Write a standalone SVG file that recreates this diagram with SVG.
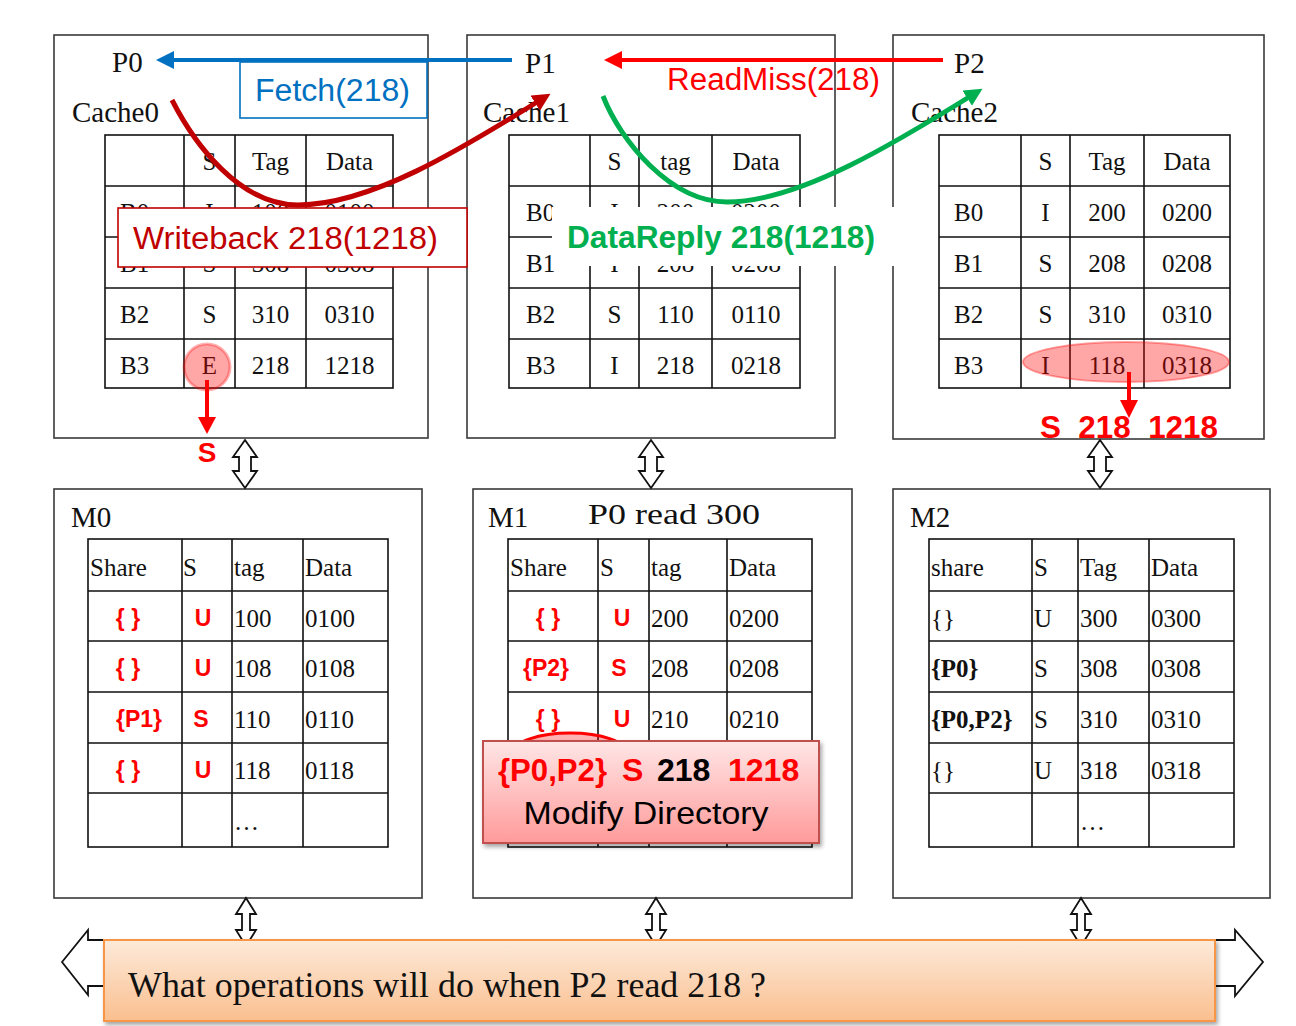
<svg xmlns="http://www.w3.org/2000/svg" width="1296" height="1026" viewBox="0 0 1296 1026">
<style>
.box{fill:#fff;stroke:#3a3a3a;stroke-width:1.6}
.tb{fill:none;stroke:#111;stroke-width:1.6}
.t{font-family:"Liberation Serif","Times New Roman",serif;font-size:25px;fill:#111}
.c{text-anchor:middle}
.lbl{font-family:"Liberation Serif","Times New Roman",serif;font-size:29px;fill:#111}
.rb{font-family:"Liberation Sans",Arial,sans-serif;font-weight:bold;font-size:23px;fill:#ff0000;text-anchor:middle}
.sans{font-family:"Liberation Sans",Arial,sans-serif}
.dbl{fill:#fff;stroke:#111;stroke-width:1.8;stroke-linejoin:miter}
</style>
<defs>
<marker id="mDR" markerUnits="userSpaceOnUse" markerWidth="20" markerHeight="20" refX="8" refY="9" orient="auto"><path d="M0,0 L18,9 L0,18 z" fill="#c00000"/></marker>
<marker id="mG" markerUnits="userSpaceOnUse" markerWidth="20" markerHeight="20" refX="8" refY="9" orient="auto"><path d="M0,0 L18,9 L0,18 z" fill="#00b050"/></marker>
<linearGradient id="gPink" x1="0" y1="0" x2="0" y2="1"><stop offset="0" stop-color="#ffe6e6"/><stop offset="1" stop-color="#ff9a9a"/></linearGradient>
<linearGradient id="gOrange" x1="0" y1="0" x2="0" y2="1"><stop offset="0" stop-color="#fdeada"/><stop offset="1" stop-color="#fabf8f"/></linearGradient>
<filter id="sh" x="-5%" y="-10%" width="110%" height="130%"><feDropShadow dx="2" dy="3" stdDeviation="2" flood-color="#000" flood-opacity="0.35"/></filter>
</defs>

<!-- Cache0 -->
<g id="cache0">
<rect class="box" x="54" y="35" width="374" height="403"/>
<text class="lbl" x="112" y="72" font-size="28">P0</text>
<text class="lbl" x="72" y="122" font-size="30">Cache0</text>
<rect class="tb" x="105" y="135" width="288" height="253"/>
<path class="tb" d="M105,186H393M105,237H393M105,288H393M105,339H393M184,135V388M235,135V388M306,135V388"/>
<g class="t">
<text class="c" x="209.5" y="170">S</text><text class="c" x="270.5" y="170">Tag</text><text class="c" x="349.5" y="170">Data</text>
<text x="120" y="221">B0</text><text class="c" x="209.5" y="221">I</text><text class="c" x="270.5" y="221">100</text><text class="c" x="349.5" y="221">0100</text>
<text x="120" y="272">B1</text><text class="c" x="209.5" y="272">S</text><text class="c" x="270.5" y="272">308</text><text class="c" x="349.5" y="272">0308</text>
<text x="120" y="323">B2</text><text class="c" x="209.5" y="323">S</text><text class="c" x="270.5" y="323">310</text><text class="c" x="349.5" y="323">0310</text>
<text x="120" y="374">B3</text><text class="c" x="209.5" y="374">E</text><text class="c" x="270.5" y="374">218</text><text class="c" x="349.5" y="374">1218</text>
</g>
<circle cx="207" cy="367" r="23" fill="#ff0000" fill-opacity="0.35" stroke="#ff0000" stroke-opacity="0.3" stroke-width="3"/>
</g>

<!-- Cache1 -->
<g id="cache1">
<rect class="box" x="467" y="35" width="368" height="403"/>
<text class="lbl" x="525" y="73" font-size="28">P1</text>
<text class="lbl" x="483" y="122" font-size="30">Cache1</text>
<rect class="tb" x="509" y="135" width="291" height="253"/>
<path class="tb" d="M509,186H800M509,237H800M509,288H800M509,339H800M590,135V388M639,135V388M712,135V388"/>
<g class="t">
<text class="c" x="614.5" y="170">S</text><text class="c" x="675.5" y="170">tag</text><text class="c" x="756" y="170">Data</text>
<text x="526" y="221">B0</text><text class="c" x="614.5" y="221">I</text><text class="c" x="675.5" y="221">200</text><text class="c" x="756" y="221">0200</text>
<text x="526" y="272">B1</text><text class="c" x="614.5" y="272">I</text><text class="c" x="675.5" y="272">208</text><text class="c" x="756" y="272">0208</text>
<text x="526" y="323">B2</text><text class="c" x="614.5" y="323">S</text><text class="c" x="675.5" y="323">110</text><text class="c" x="756" y="323">0110</text>
<text x="526" y="374">B3</text><text class="c" x="614.5" y="374">I</text><text class="c" x="675.5" y="374">218</text><text class="c" x="756" y="374">0218</text>
</g>
</g>

<!-- Cache2 -->
<g id="cache2">
<rect class="box" x="893" y="35" width="371" height="404"/>
<text class="lbl" x="954" y="73" font-size="28">P2</text>
<text class="lbl" x="911" y="122" font-size="30">Cache2</text>
<rect class="tb" x="939" y="135" width="291" height="253"/>
<path class="tb" d="M939,186H1230M939,237H1230M939,288H1230M939,339H1230M1021,135V388M1070,135V388M1144,135V388"/>
<g class="t">
<text class="c" x="1045.5" y="170">S</text><text class="c" x="1107" y="170">Tag</text><text class="c" x="1187" y="170">Data</text>
<text x="954" y="221">B0</text><text class="c" x="1045.5" y="221">I</text><text class="c" x="1107" y="221">200</text><text class="c" x="1187" y="221">0200</text>
<text x="954" y="272">B1</text><text class="c" x="1045.5" y="272">S</text><text class="c" x="1107" y="272">208</text><text class="c" x="1187" y="272">0208</text>
<text x="954" y="323">B2</text><text class="c" x="1045.5" y="323">S</text><text class="c" x="1107" y="323">310</text><text class="c" x="1187" y="323">0310</text>
<text x="954" y="374">B3</text><text class="c" x="1045.5" y="374">I</text><text class="c" x="1107" y="374">118</text><text class="c" x="1187" y="374">0318</text>
</g>
<ellipse cx="1126" cy="362" rx="103" ry="20" fill="#ff0000" fill-opacity="0.35" stroke="#ff0000" stroke-opacity="0.35" stroke-width="2"/>
</g>

<!-- M0 -->
<g id="m0">
<rect class="box" x="54" y="489" width="368" height="409"/>
<text class="lbl" x="71" y="527" font-size="30">M0</text>
<rect class="tb" x="88" y="539" width="300" height="308"/>
<path class="tb" d="M88,591H388M88,641H388M88,692H388M88,743H388M88,793H388M182,539V847M232,539V847M303,539V847"/>
<g class="t">
<text x="90" y="576">Share</text><text x="183" y="576">S</text><text x="234" y="576">tag</text><text x="305" y="576">Data</text>
<text x="234" y="627">100</text><text x="305" y="627">0100</text>
<text x="234" y="677">108</text><text x="305" y="677">0108</text>
<text x="234" y="728">110</text><text x="305" y="728">0110</text>
<text x="234" y="779">118</text><text x="305" y="779">0118</text>
<text x="234" y="830">…</text>
</g>
<text class="rb" x="128" y="626">{ }</text><text class="rb" x="203" y="626">U</text>
<text class="rb" x="128" y="676">{ }</text><text class="rb" x="203" y="676">U</text>
<text class="rb" x="139" y="727">{P1}</text><text class="rb" x="201" y="727">S</text>
<text class="rb" x="128" y="778">{ }</text><text class="rb" x="203" y="778">U</text>
</g>

<!-- M1 -->
<g id="m1">
<rect class="box" x="473" y="489" width="379" height="409"/>
<text class="lbl" x="488" y="527" font-size="30">M1</text>
<text class="lbl" x="588" y="524" font-size="36" textLength="172" lengthAdjust="spacingAndGlyphs">P0 read 300</text>
<rect class="tb" x="508" y="539" width="304" height="308"/>
<path class="tb" d="M508,591H812M508,641H812M508,692H812M508,743H812M508,793H812M598,539V847M649,539V847M727,539V847"/>
<g class="t">
<text x="510" y="576">Share</text><text x="600" y="576">S</text><text x="651" y="576">tag</text><text x="729" y="576">Data</text>
<text x="651" y="627">200</text><text x="729" y="627">0200</text>
<text x="651" y="677">208</text><text x="729" y="677">0208</text>
<text x="651" y="728">210</text><text x="729" y="728">0210</text>
</g>
<text class="rb" x="548" y="626">{ }</text><text class="rb" x="622" y="626">U</text>
<text class="rb" x="546" y="676">{P2}</text><text class="rb" x="619" y="676">S</text>
<text class="rb" x="548" y="727">{ }</text><text class="rb" x="622" y="727">U</text>
<ellipse cx="570" cy="753" rx="57" ry="20" fill="#ff0000" fill-opacity="0.3" stroke="#ff0000" stroke-width="3"/>
</g>

<!-- M2 -->
<g id="m2">
<rect class="box" x="893" y="489" width="377" height="409"/>
<text class="lbl" x="910" y="527" font-size="30">M2</text>
<rect class="tb" x="929" y="539" width="305" height="308"/>
<path class="tb" d="M929,591H1234M929,641H1234M929,692H1234M929,743H1234M929,793H1234M1032,539V847M1078,539V847M1149,539V847"/>
<g class="t">
<text x="931" y="576">share</text><text x="1034" y="576">S</text><text x="1080" y="576">Tag</text><text x="1151" y="576">Data</text>
<text x="931" y="627">{}</text><text x="1034" y="627">U</text><text x="1080" y="627">300</text><text x="1151" y="627">0300</text>
<text x="931" y="677" font-weight="bold">{P0}</text><text x="1034" y="677">S</text><text x="1080" y="677">308</text><text x="1151" y="677">0308</text>
<text x="931" y="728" font-weight="bold">{P0,P2}</text><text x="1034" y="728">S</text><text x="1080" y="728">310</text><text x="1151" y="728">0310</text>
<text x="931" y="779">{}</text><text x="1034" y="779">U</text><text x="1080" y="779">318</text><text x="1151" y="779">0318</text>
<text x="1080" y="830">…</text>
</g>
</g>

<!-- connectors -->
<g id="connectors">
<line x1="512" y1="60" x2="170" y2="60" stroke="#0070c0" stroke-width="4"/>
<polygon points="156,60 174,51 174,69" fill="#0070c0"/>
<line x1="943" y1="60" x2="618" y2="60" stroke="#ff0000" stroke-width="4"/>
<polygon points="604,60 622,51 622,69" fill="#ff0000"/>
<path d="M172,100 C195,145 240,205 298,205 C370,205 460,150 542,99" fill="none" stroke="#c00000" stroke-width="5" marker-end="url(#mDR)"/>
<path d="M603,96 C620,140 670,202 727,202 C800,202 900,140 974,94" fill="none" stroke="#00b050" stroke-width="5" marker-end="url(#mG)"/>
<line x1="207" y1="380" x2="207" y2="420" stroke="#ff0000" stroke-width="4"/>
<polygon points="198,417 216,417 207,434" fill="#ff0000"/>
<line x1="1129" y1="372" x2="1129" y2="403" stroke="#ff0000" stroke-width="4"/>
<polygon points="1120,400 1138,400 1129,418" fill="#ff0000"/>
<polygon class="dbl" points="245,440 257,457 251,457 251,471 257,471 245,488 233,471 239,471 239,457 233,457"/>
<polygon class="dbl" points="651,440 663,457 657,457 657,471 663,471 651,488 639,471 645,471 645,457 639,457"/>
<polygon class="dbl" points="1100,440 1112,457 1106,457 1106,471 1112,471 1100,488 1088,471 1094,471 1094,457 1088,457"/>
<polygon class="dbl" points="246,898 256,914 250,914 250,930 256,930 246,946 236,930 242,930 242,914 236,914"/>
<polygon class="dbl" points="656,898 666,914 660,914 660,930 666,930 656,946 646,930 652,930 652,914 646,914"/>
<polygon class="dbl" points="1081,898 1091,914 1085,914 1085,930 1091,930 1081,946 1071,930 1077,930 1077,914 1071,914"/>
</g>

<!-- labels -->
<g id="lbl-fetch">
<rect x="240" y="62" width="187" height="56" fill="#fff" stroke="#0070c0" stroke-width="1.6"/>
<text class="sans" x="255" y="101" font-size="31" fill="#0070c0" textLength="155" lengthAdjust="spacingAndGlyphs">Fetch(218)</text>
</g>
<g id="lbl-readmiss">
<text class="sans" x="667" y="90" font-size="31" fill="#ff0000" textLength="213" lengthAdjust="spacingAndGlyphs">ReadMiss(218)</text>
</g>
<g id="lbl-writeback">
<rect x="118" y="208" width="349" height="59" fill="#fff" stroke="#c00000" stroke-width="1.6"/>
<text class="sans" x="133" y="249" font-size="31" fill="#c00000" textLength="305" lengthAdjust="spacingAndGlyphs">Writeback 218(1218)</text>
</g>
<g id="lbl-datareply">
<rect x="552" y="207" width="344" height="59" fill="#fff"/>
<text class="sans" x="567" y="248" font-size="31" font-weight="bold" fill="#00b050" textLength="308" lengthAdjust="spacingAndGlyphs">DataReply 218(1218)</text>
</g>
<g id="lbl-s0">
<text class="sans" x="207" y="462" font-size="28" font-weight="bold" fill="#ff0000" text-anchor="middle">S</text>
</g>
<g id="lbl-s2">
<text class="sans" x="1040" y="438" font-size="31" font-weight="bold" fill="#ff0000" textLength="178" lengthAdjust="spacingAndGlyphs" xml:space="preserve">S  218  1218</text>
</g>

<!-- Modify Directory -->
<g id="modify">
<rect x="483" y="741" width="336" height="102" fill="url(#gPink)" stroke="#c0504d" stroke-width="2" filter="url(#sh)"/>
<g class="sans" font-size="32" font-weight="bold">
<text x="498" y="781" fill="#ff0000" textLength="109" lengthAdjust="spacingAndGlyphs">{P0,P2}</text>
<text x="622" y="781" fill="#ff0000">S</text>
<text x="657" y="781" fill="#000">218</text>
<text x="728" y="781" fill="#ff0000">1218</text>
</g>
<text class="sans" x="646" y="824" font-size="32" fill="#000" text-anchor="middle" textLength="245" lengthAdjust="spacingAndGlyphs">Modify Directory</text>
</g>

<!-- Bus -->
<g id="bus">
<polygon class="dbl" points="62,962 88,930 88,940 1235,940 1235,930 1263,962 1235,996 1235,986 88,986 88,995"/>
<rect x="104" y="940" width="1111" height="81" fill="url(#gOrange)" stroke="#f79646" stroke-width="2" filter="url(#sh)"/>
<text x="128" y="997" font-family="Liberation Serif,Times New Roman,serif" font-size="36" fill="#111" textLength="638" lengthAdjust="spacingAndGlyphs">What operations will do when P2 read 218 ?</text>
</g>
</svg>
